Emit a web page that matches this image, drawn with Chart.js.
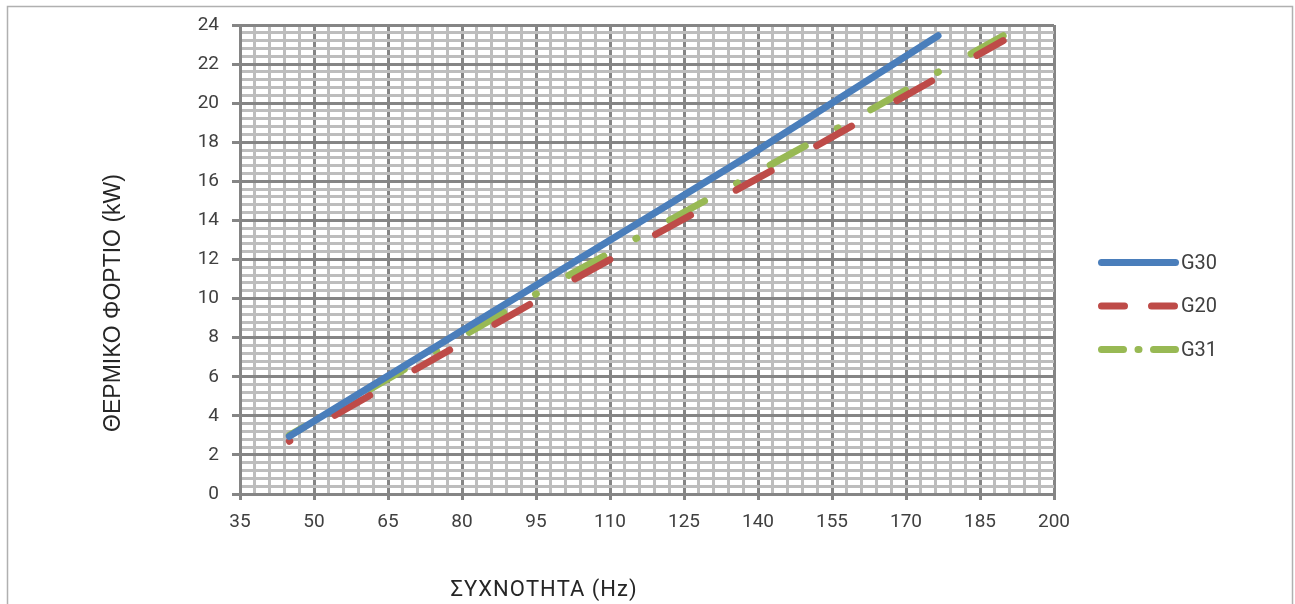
<!DOCTYPE html>
<html>
<head>
<meta charset="utf-8">
<script src="https://cdn.jsdelivr.net/npm/chart.js@4.4.0/dist/chart.umd.min.js"></script>
<style>
html, body { margin: 0; padding: 0; background: #fff; }
</style>
</head>
<body>
<canvas id="myChart" width="1295" height="604"></canvas>
<script>
// values
var seriesNames = ['G30', 'G20', 'G31'];
var g30Hz = [45, 100, 140, 176.5];
var g30Kw = [2.95, 11.45, 17.6, 23.45];
var g20Hz = [45, 101, 150, 189.7];
var g20Kw = [2.7, 10.75, 17.55, 23.2];
var g31Hz = [45, 101, 156, 189.7];
var g31Kw = [3.0, 11.1, 18.7, 23.45];
var xTicks = [35, 50, 65, 80, 95, 110, 125, 140, 155, 170, 185, 200];
var yTicks = [0, 2, 4, 6, 8, 10, 12, 14, 16, 18, 20, 22, 24];

var majorGrid = '#858585';
var minorGrid = '#bdbdbd';

function isMajor(list, v) {
    for (var i = 0; i < list.length; i++) {
        if (Math.abs(list[i] - v) < 1e-6) return true;
    }
    return false;
}

function toPoints(xs, ys) {
    var pts = [];
    for (var i = 0; i < xs.length; i++) {
        pts.push({x: xs[i], y: ys[i]});
    }
    return pts;
}

// legend dash patterns are shorter than the ones in the plot
var legendDash = [[], [23, 27], [22, 14.5, 1, 14.5]];

var decor = {
    id: 'decor',
    beforeDraw: function (chart) {
        var ctx = chart.ctx;
        ctx.save();
        ctx.fillStyle = '#fff';
        ctx.fillRect(0, 0, chart.width, chart.height);
        ctx.strokeStyle = '#b0b0b0';
        ctx.lineWidth = 1.5;
        ctx.strokeRect(7.5, 6.5, 1285, 700);
        ctx.restore();
    },
    afterDraw: function (chart) {
        var ctx = chart.ctx;
        ctx.save();
        // axis titles
        ctx.fillStyle = '#262626';
        ctx.font = '22px Roboto';
        ctx.letterSpacing = '1px';
        ctx.textAlign = 'center';
        ctx.textBaseline = 'alphabetic';
        ctx.fillText('ΣΥΧΝΟΤΗΤΑ (Hz)', 544, 596);
        ctx.letterSpacing = '0px';

        ctx.save();
        ctx.translate(120, 303);
        ctx.rotate(-Math.PI / 2);
        ctx.font = '23px "Liberation Sans"';
        ctx.fillText('ΘΕΡΜΙΚΟ ΦΟΡΤΙΟ (kW)', 0, 0);
        ctx.restore();

        // legend
        var rows = [262.5, 306, 349.5];
        chart.data.datasets.forEach(function (ds, i) {
            var y = rows[i];
            ctx.beginPath();
            ctx.strokeStyle = ds.borderColor;
            ctx.lineWidth = ds.borderWidth;
            ctx.lineCap = 'round';
            ctx.setLineDash(legendDash[i]);
            ctx.moveTo(1101.5, y);
            ctx.lineTo(1175.5, y);
            ctx.stroke();
            ctx.setLineDash([]);
            ctx.fillStyle = '#404040';
            ctx.font = '20px Roboto';
            ctx.textAlign = 'left';
            ctx.textBaseline = 'middle';
            ctx.fillText(ds.label, 1181, y + 1);
        });
        ctx.restore();
    }
};

var chartdata = {
    datasets: [
        {
            label: seriesNames[0],
            data: toPoints(g30Hz, g30Kw),
            borderColor: '#4a7ebb',
            borderWidth: 7,
            borderCapStyle: 'round',
            borderJoinStyle: 'round',
            pointRadius: 0,
            fill: false
        },
        {
            label: seriesNames[1],
            data: toPoints(g20Hz, g20Kw),
            borderColor: '#be4b48',
            borderWidth: 7,
            borderCapStyle: 'round',
            borderJoinStyle: 'round',
            borderDash: [40, 52],
            borderDashOffset: 39.5,
            pointRadius: 0,
            fill: false
        },
        {
            label: seriesNames[2],
            data: toPoints(g31Hz, g31Kw),
            borderColor: '#98b954',
            borderWidth: 7,
            borderCapStyle: 'round',
            borderJoinStyle: 'round',
            borderDash: [40, 36.5, 1, 37.3],
            borderDashOffset: 22.4,
            pointRadius: 0,
            fill: false
        }
    ]
};

var graphTarget = document.getElementById('myChart');

var lineGraph = new Chart(graphTarget, {
    type: 'line',
    data: chartdata,
    plugins: [decor],
    options: {
        responsive: false,
        devicePixelRatio: 1,
        animation: false,
        layout: {padding: {left: 0, top: 25, right: 241, bottom: 0}},
        plugins: {
            legend: {display: false},
            tooltip: {enabled: false}
        },
        scales: {
            x: {
                type: 'linear',
                min: 35,
                max: 200,
                afterFit: function (scale) { scale.height = 110; },
                ticks: {
                    stepSize: 3,
                    autoSkip: false,
                    maxRotation: 0,
                    padding: 11,
                    color: '#404040',
                    font: {family: 'Roboto', size: 19},
                    callback: function (v) { return isMajor(xTicks, v) ? String(Math.round(v)) : ''; }
                },
                grid: {
                    lineWidth: 3,
                    tickLength: 6,
                    color: function (c) { return isMajor(xTicks, c.tick.value) ? majorGrid : minorGrid; },
                    tickColor: function (c) { return isMajor(xTicks, c.tick.value) ? majorGrid : 'rgba(0,0,0,0)'; }
                },
                border: {color: majorGrid, width: 3}
            },
            y: {
                min: 0,
                max: 24,
                afterFit: function (scale) { scale.width = 240; },
                ticks: {
                    stepSize: 0.4,
                    autoSkip: false,
                    padding: 13,
                    color: '#404040',
                    font: {family: 'Roboto', size: 19},
                    callback: function (v) { return isMajor(yTicks, v) ? String(Math.round(v)) : ''; }
                },
                grid: {
                    lineWidth: 3,
                    tickLength: 8,
                    color: function (c) { return isMajor(yTicks, c.tick.value) ? majorGrid : minorGrid; },
                    tickColor: function (c) { return isMajor(yTicks, c.tick.value) ? majorGrid : 'rgba(0,0,0,0)'; }
                },
                border: {color: majorGrid, width: 3}
            }
        }
    }
});
</script>
</body>
</html>
